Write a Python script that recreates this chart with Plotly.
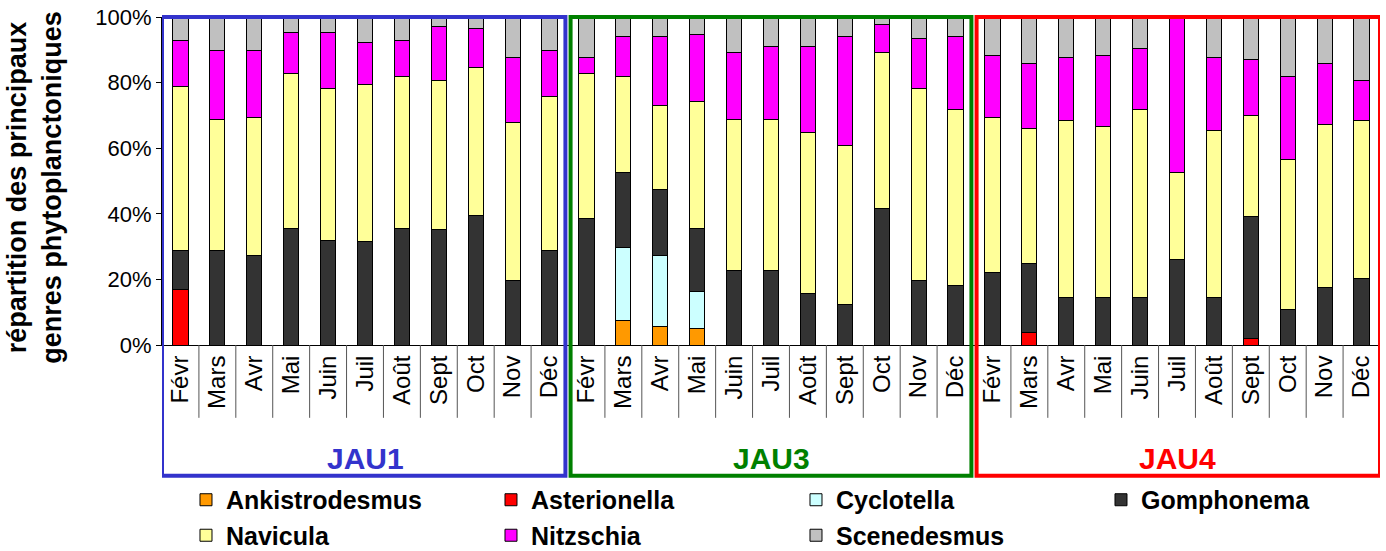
import plotly.graph_objects as go

months = ["Févr", "Mars", "Avr", "Mai", "Juin", "Juil", "Août", "Sept", "Oct", "Nov", "Déc"]
sites = ["JAU1", "JAU3", "JAU4"]
site_colors = ["#3333CC", "#008000", "#FF0000"]

genera = ["Ankistrodesmus", "Asterionella", "Cyclotella", "Gomphonema",
          "Navicula", "Nitzschia", "Scenedesmus"]
genus_colors = ["#FF9900", "#FF0000", "#CCFFFF", "#333333", "#FFFF99", "#FF00FF", "#C0C0C0"]

y_ticks = [0, 0.2, 0.4, 0.6, 0.8, 1.0]
y_ticklabels = ["0%", "20%", "40%", "60%", "80%", "100%"]

# values in % (JAU1 | JAU3 | JAU4), 11 months each
ankistrodesmus = [0]*11 + [0, 7.4, 5.7, 5.1, 0, 0, 0, 0, 0, 0, 0] + [0]*11
asterionella = [17.0, 0, 0, 0, 0, 0, 0, 0, 0, 0, 0] + [0]*11 + \
               [0, 3.9, 0, 0, 0, 0, 0, 2.1, 0, 0, 0]
cyclotella = [0]*11 + [0, 22.3, 21.6, 11.1, 0, 0, 0, 0, 0, 0, 0] + [0]*11
gomphonema = [11.7, 28.7, 27.4, 35.6, 32.0, 31.5, 35.6, 35.1, 39.6, 19.8, 28.7] + \
             [38.5, 22.8, 20.0, 19.4, 22.7, 22.7, 15.8, 12.2, 41.5, 19.8, 18.1] + \
             [22.2, 21.1, 14.5, 14.5, 14.5, 26.2, 14.5, 37.0, 10.9, 17.5, 20.3]
navicula = [50.2, 40.2, 42.0, 47.3, 46.3, 48.0, 46.2, 45.6, 45.1, 47.9, 47.2] + \
           [44.4, 29.3, 25.7, 38.6, 46.2, 46.2, 49.0, 48.5, 47.8, 58.5, 53.7] + \
           [47.2, 40.9, 53.8, 52.1, 57.3, 26.3, 50.9, 30.9, 45.7, 49.7, 48.0]
nitzschia = [14.0, 21.0, 20.5, 12.4, 17.0, 12.8, 11.1, 16.3, 11.7, 20.0, 14.0] + \
            [4.8, 12.2, 21.0, 20.4, 20.4, 22.2, 26.3, 33.3, 8.3, 15.1, 22.2] + \
            [18.8, 20.0, 19.3, 21.6, 18.7, 47.5, 22.2, 17.0, 25.2, 18.7, 12.3]
scenedesmus = [7.1, 10.1, 10.1, 4.7, 4.7, 7.7, 7.1, 3.0, 3.6, 12.3, 10.1] + \
              [12.3, 6.0, 6.0, 5.4, 10.7, 8.9, 8.9, 6.0, 2.4, 6.6, 6.0] + \
              [11.8, 14.1, 12.4, 11.8, 9.5, 0.0, 12.4, 13.0, 18.2, 14.1, 19.4]

series = [ankistrodesmus, asterionella, cyclotella, gomphonema, navicula, nitzschia, scenedesmus]

n_m = len(months)
n = n_m * len(sites)
xpos = list(range(n))
ticktext = months * len(sites)

FONT = "Arial, Liberation Sans, sans-serif"

fig = go.Figure()
for name, col, vals in zip(genera, genus_colors, series):
    fig.add_trace(go.Bar(
        x=xpos, y=[v / 100 if v else None for v in vals], name=name,
        marker=dict(color=col, line=dict(color="#000000", width=1)),
    ))

shapes = []
# category separators below the axis
for k in range(n - 1):
    if (k + 1) % n_m == 0:
        continue
    shapes.append(dict(type="line", xref="x", yref="paper", x0=k + 0.5, x1=k + 0.5,
                       y0=0, y1=-0.222, line=dict(color="#555555", width=1)))
# site boxes
annotations = []
for i, (s, c) in enumerate(zip(sites, site_colors)):
    x0 = i * n_m - 0.5 + (0.0 if i == 0 else 0.07)
    x1 = (i + 1) * n_m - 0.5 - (0.07 if i < len(sites) - 1 else 0.0)
    shapes.append(dict(type="rect", xref="x", yref="paper", x0=x0, x1=x1,
                       y0=-0.399, y1=1.0, line=dict(color=c, width=4)))
    annotations.append(dict(xref="x", yref="paper", x=i * n_m + (n_m - 1) / 2, y=-0.345,
                            text="<b>%s</b>" % s, showarrow=False,
                            font=dict(family=FONT, size=30, color=c),
                            xanchor="center", yanchor="middle"))

annotations.append(dict(xref="paper", yref="paper", x=-0.105, y=0.48,
                        text="<b>répartition des principaux<br>genres phytoplanctoniques</b>",
                        textangle=-90, showarrow=False,
                        font=dict(family=FONT, size=27, color="#000000"),
                        xanchor="center", yanchor="middle"))

fig.update_layout(
    width=1386, height=551,
    margin=dict(l=162, r=6, t=17, b=206, autoexpand=False),
    barmode="stack", bargap=0.59,
    plot_bgcolor="white", paper_bgcolor="white",
    font=dict(family=FONT, color="#000000"),
    shapes=shapes, annotations=annotations,
    showlegend=True,
    legend=dict(orientation="h", x=0.0197, xanchor="left", y=-0.4024, yanchor="top",
                traceorder="normal", entrywidth=260, entrywidthmode="pixels",
                font=dict(family=FONT, size=25, color="#000000", weight="bold"),
                bgcolor="rgba(0,0,0,0)", borderwidth=0),
    xaxis=dict(range=[-0.5, n - 0.5], tickmode="array", tickvals=xpos, ticktext=ticktext,
               tickangle=-90, ticks="", showline=True, linecolor="#000000", linewidth=1,
               showgrid=False, zeroline=False, tickfont=dict(family=FONT, size=24, color="#000000")),
    yaxis=dict(range=[0, 1], tickmode="array", tickvals=y_ticks, ticktext=y_ticklabels,
               ticks="outside", ticklen=5, ticklabeloverflow="allow",
               tickcolor="#000000", showline=True, linecolor="#000000", linewidth=1,
               showgrid=False, zeroline=False,
               tickfont=dict(family=FONT, size=22, color="#000000")),
)

fig.write_html("out.html", config={"displayModeBar": False},
               post_script="document.body.style.margin='0';")
